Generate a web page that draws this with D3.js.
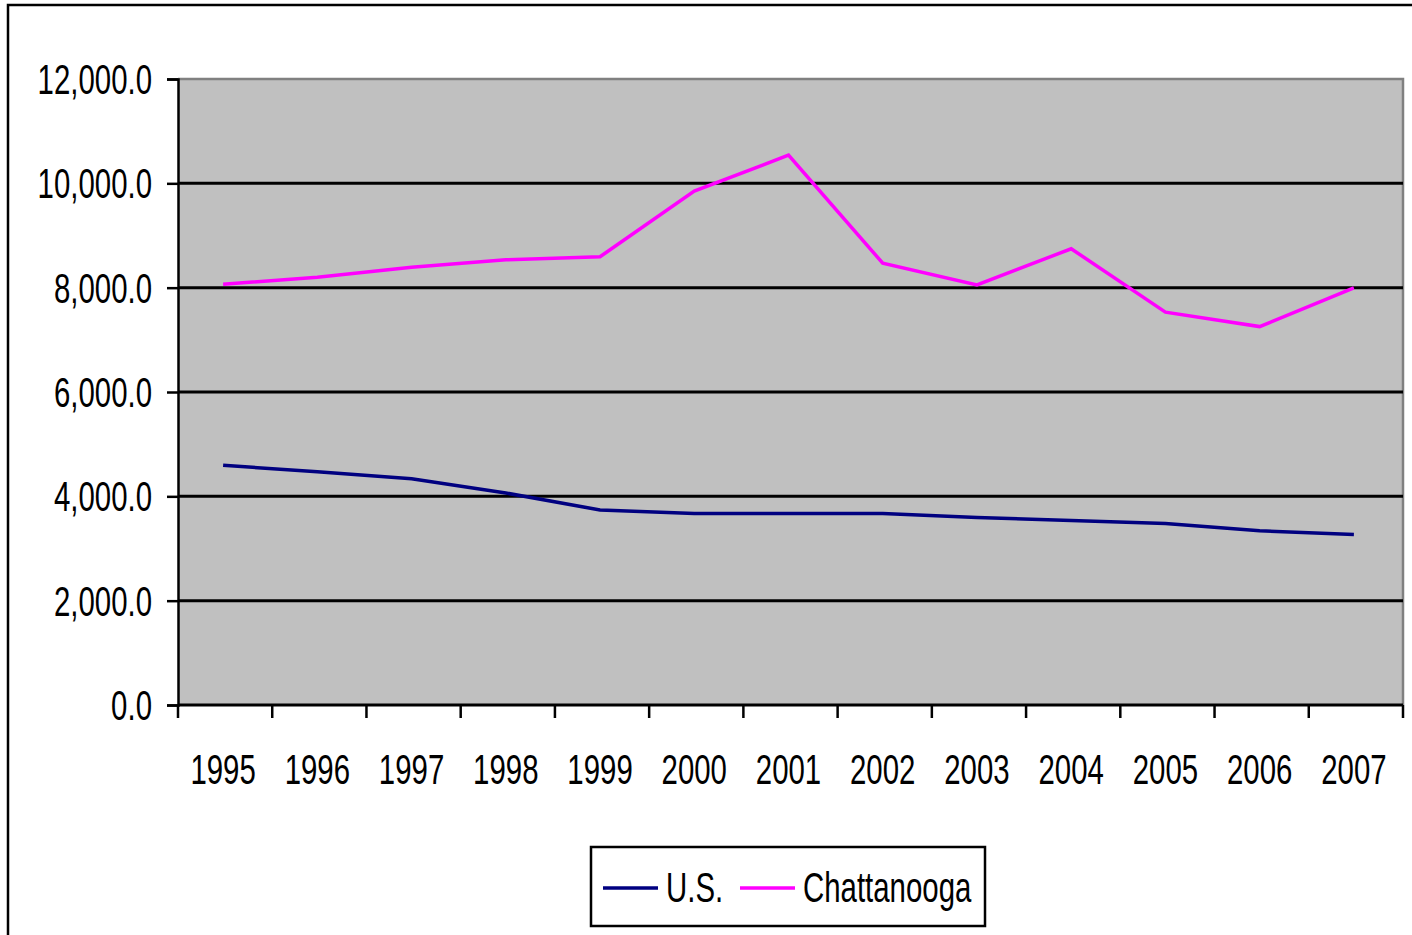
<!DOCTYPE html>
<html>
<head>
<meta charset="utf-8">
<script src="https://cdn.jsdelivr.net/npm/d3@7"></script>
<style>
  html, body { margin: 0; padding: 0; background: #fff; overflow: hidden; }
  text { font-family: "Liberation Sans Narrow", "Arial Narrow", "Liberation Sans", Arial, sans-serif; fill: #000; }
</style>
</head>
<body>
<svg id="chart" width="1412" height="935"></svg>
<script>
// ── data ────────────────────────────────────────────────────────────────────
const years = ['1995', '1996', '1997', '1998', '1999', '2000', '2001',
               '2002', '2003', '2004', '2005', '2006', '2007'];
const usValues = [4596, 4469, 4335, 4064, 3738, 3673, 3673,
                  3673, 3596, 3538, 3481, 3340, 3269];
const chattanoogaValues = [8064, 8199, 8392, 8534, 8592, 9851, 10540,
                           8469, 8052, 8746, 7531, 7254, 7994];
const yTicks = [0, 2000, 4000, 6000, 8000, 10000, 12000];

const series = [
  { name: 'U.S.',        values: usValues,          color: '#000080' },
  { name: 'Chattanooga', values: chattanoogaValues, color: '#ff00ff' },
];

// ── layout ──────────────────────────────────────────────────────────────────
const plot = { left: 178, right: 1403, top: 79, bottom: 705 };
const TEXT_SQUEEZE = 0.70;   // condensed look of the original font

const svg = d3.select('#chart');

// outer chart border (runs off the right/bottom edge in the original)
svg.append('rect')
  .attr('x', 8).attr('y', 5)
  .attr('width', 1420).attr('height', 950)
  .attr('fill', '#fff')
  .attr('stroke', '#000')
  .attr('stroke-width', 2.5);

const x = d3.scaleBand()
  .domain(years)
  .range([plot.left, plot.right]);

const y = d3.scaleLinear()
  .domain([0, 12000])
  .range([plot.bottom, plot.top]);

// plot area
svg.append('rect')
  .attr('x', plot.left).attr('y', plot.top)
  .attr('width', plot.right - plot.left)
  .attr('height', plot.bottom - plot.top)
  .attr('fill', '#c0c0c0');

// top + right frame in grey
svg.append('path')
  .attr('d', `M${plot.left},${plot.top}H${plot.right}V${plot.bottom}`)
  .attr('fill', 'none')
  .attr('stroke', '#808080')
  .attr('stroke-width', 2.5);

// gridlines
svg.append('g')
  .selectAll('line')
  .data(yTicks.filter(d => d > 0 && d < 12000))
  .join('line')
  .attr('x1', plot.left).attr('x2', plot.right)
  .attr('y1', d => y(d)).attr('y2', d => y(d))
  .attr('stroke', '#000')
  .attr('stroke-width', 3);

// y axis
const yAxis = svg.append('g')
  .attr('transform', `translate(${plot.left},0)`)
  .call(d3.axisLeft(y).tickValues(yTicks).tickSize(11).tickPadding(0)
    .tickFormat(d3.format(',.1f')));
yAxis.select('.domain').attr('stroke', '#000').attr('stroke-width', 2.5);
yAxis.selectAll('.tick line').attr('stroke', '#000').attr('stroke-width', 2.5);
yAxis.selectAll('.tick text')
  .attr('x', null).attr('dy', null)
  .attr('font-size', 42)
  .attr('text-anchor', 'end')
  .attr('dominant-baseline', 'central')
  .attr('transform', `translate(-26,0) scale(${TEXT_SQUEEZE},1)`);

// x axis (ticks at category boundaries)
const xAxisG = svg.append('g')
  .attr('transform', `translate(0,${plot.bottom})`);
xAxisG.append('line')
  .attr('x1', plot.left).attr('x2', plot.right)
  .attr('stroke', '#000').attr('stroke-width', 3);
const boundaries = years.map(d => x(d)).concat([plot.right]);
xAxisG.selectAll('line.tk')
  .data(boundaries)
  .join('line')
  .attr('class', 'tk')
  .attr('x1', d => d).attr('x2', d => d)
  .attr('y1', 0).attr('y2', 13)
  .attr('stroke', '#000').attr('stroke-width', 2.5);
xAxisG.selectAll('text')
  .data(years)
  .join('text')
  .attr('font-size', 42)
  .attr('text-anchor', 'middle')
  .attr('dominant-baseline', 'central')
  .attr('transform', d => `translate(${x(d) + x.bandwidth() / 2 - 2},65) scale(${TEXT_SQUEEZE},1)`)
  .text(d => d);

// lines
const line = d3.line()
  .x((d, i) => x(years[i]) + x.bandwidth() / 2 - 2)
  .y(d => y(d));

svg.append('g')
  .selectAll('path')
  .data(series)
  .join('path')
  .attr('d', d => line(d.values))
  .attr('fill', 'none')
  .attr('stroke', d => d.color)
  .attr('stroke-width', 3.5)
  .attr('stroke-linejoin', 'miter');

// legend
const legend = svg.append('g');
legend.append('rect')
  .attr('x', 591).attr('y', 847)
  .attr('width', 394).attr('height', 79)
  .attr('fill', '#fff')
  .attr('stroke', '#000')
  .attr('stroke-width', 2.5);

const legendPos = [603, 740];
const items = legend.selectAll('g.item')
  .data(series)
  .join('g')
  .attr('class', 'item')
  .attr('transform', (d, i) => `translate(${legendPos[i]},888)`);
items.append('line')
  .attr('x1', 0).attr('x2', 55)
  .attr('stroke', d => d.color)
  .attr('stroke-width', 3.5);
items.append('text')
  .attr('font-size', 42)
  .attr('dominant-baseline', 'central')
  .attr('transform', `translate(63,0) scale(${TEXT_SQUEEZE},1)`)
  .text(d => d.name);
</script>
</body>
</html>
